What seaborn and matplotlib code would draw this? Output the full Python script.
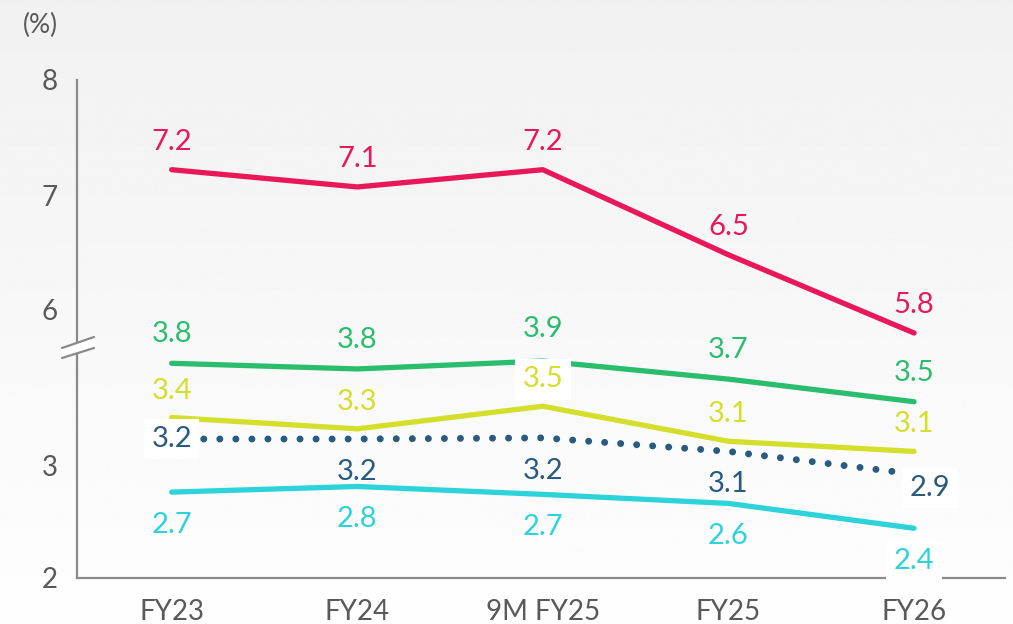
import numpy as np
import pandas as pd
import seaborn as sns
import matplotlib.pyplot as plt
from matplotlib.patches import Polygon
from matplotlib.lines import Line2D

# values (upper panel = red series, lower panel = the rest)
categories = ["FY23", "FY24", "9M FY25", "FY25", "FY26"]
red_vals = [7.22, 7.07, 7.22, 6.48, 5.80]
green_vals = [3.90, 3.85, 3.92, 3.76, 3.56]
yellow_vals = [3.42, 3.32, 3.52, 3.21, 3.12]
navy_vals = [3.23, 3.23, 3.24, 3.12, 2.92]
cyan_vals = [2.76, 2.81, 2.74, 2.66, 2.44]

red_labels = ["7.2", "7.1", "7.2", "6.5", "5.8"]
green_labels = ["3.8", "3.8", "3.9", "3.7", "3.5"]
yellow_labels = ["3.4", "3.3", "3.5", "3.1", "3.1"]
navy_labels = ["3.2", "3.2", "3.2", "3.1", "2.9"]
cyan_labels = ["2.7", "2.8", "2.7", "2.6", "2.4"]

RED = "#e8185a"
GREEN = "#2bbd6e"
YELLOW = "#d4df2c"
NAVY = "#2a5b7f"
CYAN = "#2dd3da"
GREY_TXT = "#595959"
GREY_AX = "#8a8a8a"

sns.set_style("white")
plt.rcParams["font.family"] = ["Lato", "DejaVu Sans"]

W, H = 1013, 624
fig = plt.figure(figsize=(W / 100, H / 100), dpi=100)

# soft vertical gradient background
bg = fig.add_axes([0, 0, 1, 1], zorder=-10)
grad = np.linspace(241, 254, 256).reshape(-1, 1) / 255
bg.imshow(grad, aspect="auto", cmap="gray", vmin=0, vmax=1, extent=[0, 1, 0, 1])
bg.axis("off")

left, right = 77, 1005
top_px, brk_px, bot_px = 80, 345, 578
ax_bot = fig.add_axes([left / W, 1 - bot_px / H, (right - left) / W, (bot_px - brk_px) / H])
ax_top = fig.add_axes([left / W, 1 - brk_px / H, (right - left) / W, (brk_px - top_px) / H],
                      sharex=ax_bot)
for ax in (ax_top, ax_bot):
    ax.set_facecolor("none")

df = pd.DataFrame({"cat": categories, "red": red_vals, "green": green_vals,
                   "yellow": yellow_vals, "navy": navy_vals, "cyan": cyan_vals})

lw = 3.8
sns.lineplot(data=df, x="cat", y="red", ax=ax_top, color=RED, linewidth=lw,
             sort=False, solid_capstyle="round")
sns.lineplot(data=df, x="cat", y="green", ax=ax_bot, color=GREEN, linewidth=lw,
             sort=False, solid_capstyle="round")
sns.lineplot(data=df, x="cat", y="yellow", ax=ax_bot, color=YELLOW, linewidth=lw,
             sort=False, solid_capstyle="round")
sns.lineplot(data=df, x="cat", y="navy", ax=ax_bot, color=NAVY, linewidth=5,
             sort=False, linestyle=(0, (0.01, 2.3)), dash_capstyle="round")
sns.lineplot(data=df, x="cat", y="cyan", ax=ax_bot, color=CYAN, linewidth=lw,
             sort=False, solid_capstyle="round")

# scales: ~115 px per unit in both panels
ax_top.set_ylim(8 - (brk_px - top_px) / 115, 8)
ax_bot.set_ylim(2, 2 + (bot_px - brk_px) / 113)
ax_bot.set_xlim(-0.51, 4.49)
ax_top.set_yticks([6, 7, 8])
ax_bot.set_yticks([2, 3])

for ax in (ax_top, ax_bot):
    ax.set_xlabel("")
    ax.set_ylabel("")
    for s in ("top", "right"):
        ax.spines[s].set_visible(False)
    ax.spines["left"].set_color(GREY_AX)
    ax.spines["left"].set_linewidth(1.6)
    ax.tick_params(axis="y", length=0, pad=14, labelsize=20, labelcolor=GREY_TXT)
ax_top.spines["bottom"].set_visible(False)
ax_top.tick_params(axis="x", bottom=False, labelbottom=False)
ax_bot.spines["bottom"].set_color(GREY_AX)
ax_bot.spines["bottom"].set_linewidth(1.6)
ax_bot.tick_params(axis="x", length=0, pad=15, labelsize=20, labelcolor=GREY_TXT)

# data labels (offsets in pixels)
boxed = dict(boxstyle="square,pad=0.25", fc="white", ec="none")


def put_labels(ax, vals, labels, color, dy, special=None, boxes=()):
    special = special or {}
    for i, (v, t) in enumerate(zip(vals, labels)):
        dx_i, dy_i = special.get(i, (0, dy))
        ax.annotate(t, (i, v), xytext=(dx_i, dy_i), textcoords="offset pixels",
                    ha="center", va="center", fontsize=21, color=color,
                    bbox=boxed if i in boxes else None, zorder=5,
                    annotation_clip=False)


put_labels(ax_top, red_vals, red_labels, RED, 28)
put_labels(ax_bot, green_vals, green_labels, GREEN, 29, special={2: (0, 32)})
put_labels(ax_bot, yellow_vals, yellow_labels, YELLOW, 27, boxes=(2,))
put_labels(ax_bot, navy_vals, navy_labels, NAVY, -33,
           special={0: (0, 0), 4: (16, -14)}, boxes=(0, 4))
put_labels(ax_bot, cyan_vals, cyan_labels, CYAN, -33, boxes=(4,))

# axis break marker on the left spine
def fp(x, y):
    return (x / W, 1 - y / H)


fig.patches.append(Polygon([fp(62, 348), fp(94, 337), fp(94, 348), fp(62, 358)],
                           closed=True, fc="white", ec="none",
                           transform=fig.transFigure, zorder=20))
for (x0, y0), (x1, y1) in [((62, 348), (94, 337)), ((62, 358), (94, 348))]:
    a, b = fp(x0, y0), fp(x1, y1)
    fig.lines.append(Line2D([a[0], b[0]], [a[1], b[1]], color=GREY_AX, lw=1.6,
                            transform=fig.transFigure, zorder=21))

fig.text(40 / W, 1 - 25 / H, "(%)", ha="center", va="center",
         fontsize=19, color=GREY_TXT)

fig.savefig("out.png", dpi=100)
